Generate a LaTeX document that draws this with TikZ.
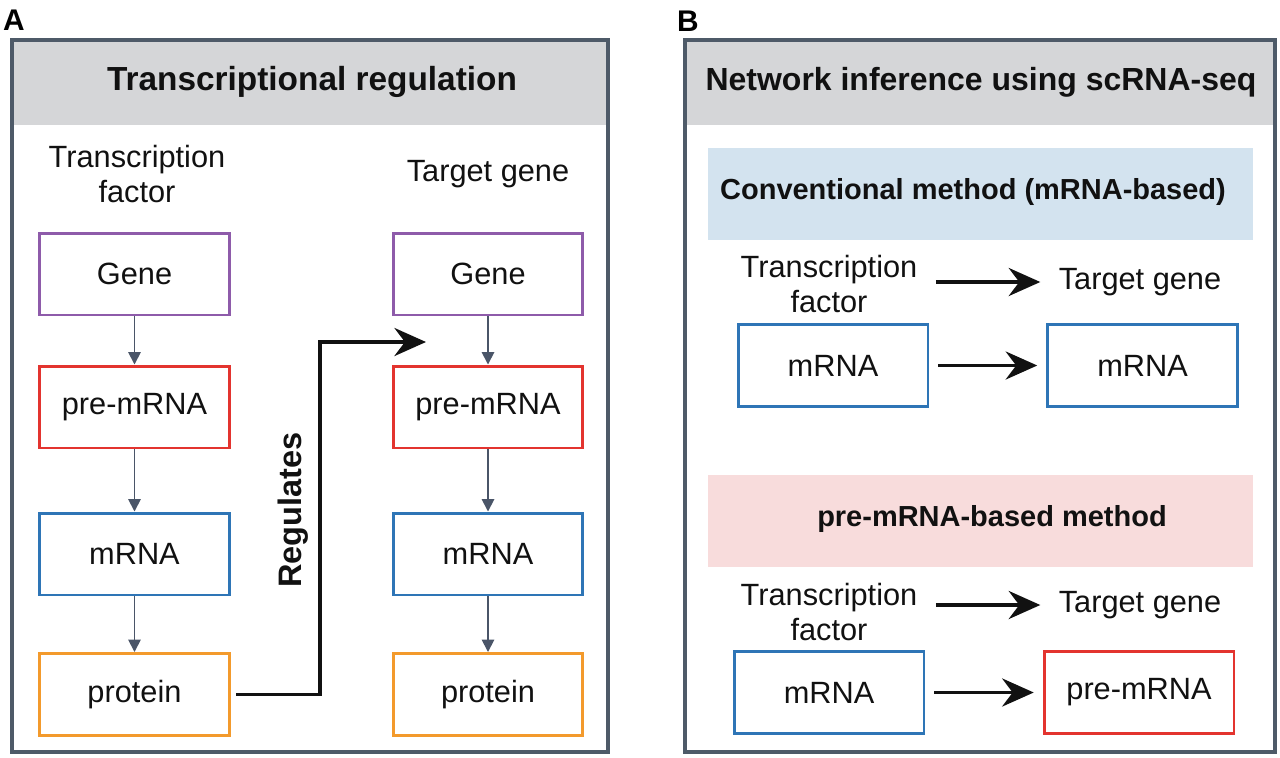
\documentclass[tikz,border=0pt]{standalone}
\usepackage{fontspec}
\setmainfont{Liberation Sans}
\usetikzlibrary{
  arrows.meta,
  positioning
}
\definecolor{framegray}{HTML}{4E5A68}
\definecolor{headgray}{HTML}{D5D6D8}
\definecolor{genepurple}{HTML}{8E5BAA}
\definecolor{prered}{HTML}{E3342F}
\definecolor{mrnablue}{HTML}{2E75B6}
\definecolor{protorange}{HTML}{F39A2C}
\definecolor{convblue}{HTML}{D3E3EF}
\definecolor{prepink}{HTML}{F8DCDC}
\definecolor{stepgray}{HTML}{4A5568}
\definecolor{inktext}{HTML}{111111}
\tikzset{
  molbox/.style = {
    draw,
    line width=1.7pt,
    fill=white,
    minimum width=3.8cm,
    minimum height=1.64cm,
    text=inktext,
    font=\fontsize{17.5}{20}\selectfont
  },
  genebox/.style = {molbox, draw=genepurple},
  prebox/.style = {molbox, draw=prered},
  mrnabox/.style = {molbox, draw=mrnablue},
  protbox/.style = {molbox, draw=protorange},
  plainlabel/.style = {
    align=center,
    text=inktext,
    font=\fontsize{17.5}{19.8}\selectfont
  },
  headlabel/.style = {
    text=inktext,
    font=\fontsize{18.5}{22}\selectfont\bfseries
  },
  sublabel/.style = {
    text=inktext,
    font=\fontsize{16.5}{20}\selectfont\bfseries
  },
  steparrow/.style = {
    stepgray,
    line width=1pt,
    -{Triangle[width=7pt,length=7pt]}
  },
  bigarrow/.style = {
    inktext,
    line width=2pt,
    -{Stealth[length=18pt,width=16pt,inset=6pt]}
  }
}

\begin{document}
\begin{tikzpicture}[x=0.02cm, y=-0.02cm]

    \useasboundingbox (0,0) rectangle (1280,757);

    % Panel frames with grey headers
    \fill[headgray] (13,41) rectangle (607,125);
    \fill[headgray] (686,41) rectangle (1274,125);
    \draw[framegray, line width=1.8pt] (12,40) rectangle (608,752);
    \draw[framegray, line width=1.8pt] (685,40) rectangle (1275,752);

    % Panel letters
    \node[font=\fontsize{17}{20}\selectfont\bfseries] (letA) at (14,20) {A};
    \node[font=\fontsize{17}{20}\selectfont\bfseries] (letB) at (688,21) {B};

    % Headers
    \node[headlabel, font=\fontsize{19}{22}\selectfont\bfseries] (titleA) at (312,82) {Transcriptional regulation};
    \node[headlabel, font=\fontsize{18.2}{22}\selectfont\bfseries] (titleB) at (981,82) {Network inference using scRNA-seq};

    % Panel A: column labels
    \node[plainlabel] (tfA) at (137,174) {Transcription\\factor};
    \node[plainlabel] (tgA) at (488,174) {Target gene};

    % Panel A: transcription factor column
    \node[genebox] (geneL) at (134.5,274) {Gene};
    \node[prebox]  (preL)  at (134.5,407) {pre-mRNA};
    \node[mrnabox] (mrnaL) at (134.5,554) {mRNA};
    \node[protbox] (protL) at (134.5,694.5) {protein};

    % Panel A: target gene column
    \node[genebox] (geneR) at (488,274) {Gene};
    \node[prebox]  (preR)  at (488,407) {pre-mRNA};
    \node[mrnabox] (mrnaR) at (488,554) {mRNA};
    \node[protbox] (protR) at (488,694.5) {protein};

    % Expression steps
    \foreach \side in {L,R} {
        \draw[steparrow] (gene\side) -- (pre\side);
        \draw[steparrow] (pre\side) -- (mrna\side);
        \draw[steparrow] (mrna\side) -- (prot\side);
    }

    % Regulation link
    \coordinate (regTurn) at (320,342);
    \coordinate (regEnd) at (426,342);
    \draw[bigarrow, shorten <=3pt] (protL.east) -| (regTurn) -- (regEnd);
    \node[rotate=90, text=inktext,
          font=\fontsize{18.5}{20}\selectfont\bfseries] (reg) at (293,510) {Regulates};

    % Panel B: conventional method
    \node[fill=convblue, minimum width=10.9cm, minimum height=1.84cm] (convBar) at (980.5,194) {};
    \node[sublabel] (convTitle) at (973,192) {Conventional method (mRNA-based)};
    \node[plainlabel] (tfB) at (829,284) {Transcription\\factor};
    \node[plainlabel] (tgB) at (1140,282) {Target gene};
    \node[mrnabox] (mrnaB) at (833,365.5) {mRNA};
    \node[mrnabox] (mrnaT) at (1142.5,365.5) {mRNA};
    \draw[bigarrow, shorten <=7pt, shorten >=7pt] (tfB.east |- tgB.west) -- (tgB.west);
    \draw[bigarrow, shorten <=5pt, shorten >=5pt] (mrnaB) -- (mrnaT);

    % Panel B: pre-mRNA-based method
    \node[fill=prepink, minimum width=10.9cm, minimum height=1.84cm] (preBar) at (980.5,521) {};
    \node[sublabel] (preTitle) at (992,519) {pre-mRNA-based method};
    \node[plainlabel] (tfC) at (829,612) {Transcription\\factor};
    \node[plainlabel] (tgC) at (1140,605) {Target gene};
    \node[mrnabox] (mrnaC) at (829,692.5) {mRNA};
    \node[prebox]  (preC)  at (1139,692.5) {pre-mRNA};
    \draw[bigarrow, shorten <=7pt, shorten >=7pt] (tfC.east |- tgC.west) -- (tgC.west);
    \draw[bigarrow, shorten <=5pt, shorten >=5pt] (mrnaC) -- (preC);

\end{tikzpicture}
\end{document}
